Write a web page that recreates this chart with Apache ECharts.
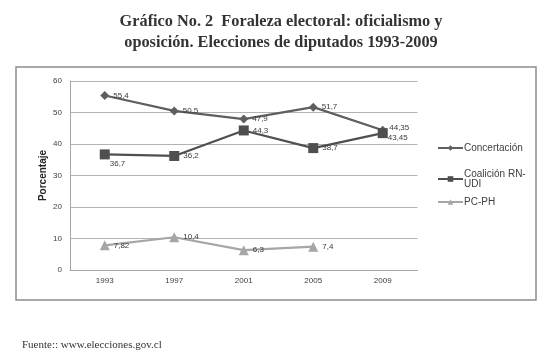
<!DOCTYPE html>
<html>
<head>
<meta charset="utf-8">
<script src="https://cdn.jsdelivr.net/npm/echarts@6/dist/echarts.min.js"></script>
<style>html,body{margin:0;padding:0;background:#fff;}#c{width:545px;height:356px;}</style>
</head>
<body>
<div id="c"></div>
<script>
const years = ['1993', '1997', '2001', '2005', '2009'];
const concertacion = [55.4, 50.5, 47.9, 51.7, 44.35];
const coalicion = [36.7, 36.2, 44.3, 38.7, 43.45];
const pcph = [7.82, 10.4, 6.3, 7.4, null];
const seriesNames = ['Concertación', 'Coalición RN-UDI', 'PC-PH'];
const yTicks = [0, 10, 20, 30, 40, 50, 60];

const fmt = p => String(p.value).replace('.', ',');
const lblBase = { show: true, position: 'right', distance: 4, fontSize: 8, color: '#3a3a3a', fontFamily: 'Liberation Sans', formatter: fmt };

const chart = echarts.init(document.getElementById('c'), null, { renderer: 'canvas' });
const legendCommon = {
  orient: 'vertical', left: 437, itemWidth: 25, itemHeight: 7,
  textStyle: { fontSize: 10, color: '#404040', fontFamily: 'Liberation Sans', lineHeight: 10, padding: [0, 0, 0, -4] },
  padding: 0
};
chart.setOption({
  animation: false,
  backgroundColor: '#fff',
  title: [
    { text: 'Gráfico No. 2  Foraleza electoral: oficialismo y\noposición. Elecciones de diputados 1993-2009',
      left: 276, top: 6, textAlign: 'center',
      textStyle: { fontFamily: 'Liberation Serif', fontWeight: 'bold', fontSize: 16.3, lineHeight: 21, color: '#333' } },
    { text: 'Fuente:: www.elecciones.gov.cl', left: 17, top: 335,
      textStyle: { fontFamily: 'Liberation Serif', fontWeight: 'normal', fontSize: 11, color: '#333' } }
  ],
  graphic: [
    { type: 'rect', shape: { x: 16, y: 67, width: 520, height: 233 }, style: { fill: 'none', stroke: '#8c8c8c', lineWidth: 1.5 }, z: -1 }
  ],
  legend: [
    Object.assign({ top: 143, data: [seriesNames[0]] }, legendCommon),
    Object.assign({ top: 169, data: [seriesNames[1]], formatter: n => 'Coalición RN-\nUDI' }, legendCommon),
    Object.assign({ top: 197, data: [seriesNames[2]] }, legendCommon)
  ],
  grid: { left: 70, right: 127.5, top: 81, bottom: 86 },
  xAxis: {
    type: 'category', data: years, boundaryGap: true,
    axisLine: { lineStyle: { color: '#a6a6a6' } }, axisTick: { show: false },
    axisLabel: { fontSize: 8, color: '#404040', fontFamily: 'Liberation Sans', margin: 7 }
  },
  yAxis: {
    type: 'value', min: yTicks[0], max: yTicks[yTicks.length - 1], interval: 10,
    name: 'Porcentaje', nameLocation: 'middle', nameGap: 22, nameRotate: 90, nameMoveOverlap: false,
    nameTextStyle: { fontSize: 10, fontWeight: 'bold', color: '#262626', fontFamily: 'Liberation Sans' },
    axisLine: { show: true, lineStyle: { color: '#a6a6a6' } }, axisTick: { show: false },
    splitLine: { lineStyle: { color: '#b3b3b3' } },
    axisLabel: { fontSize: 8, color: '#404040', fontFamily: 'Liberation Sans', margin: 8 }
  },
  series: [
    { name: seriesNames[0], type: 'line', symbol: 'diamond', symbolSize: 9,
      itemStyle: { color: '#5f5f5f' }, lineStyle: { color: '#5f5f5f', width: 2.2 },
      label: lblBase,
      emphasis: { disabled: true },
      data: concertacion.map((v, i) => i === 4 ? { value: v, label: { offset: [-2, -3] } } : v) },
    { name: seriesNames[1], type: 'line', symbol: 'rect', symbolSize: 10,
      itemStyle: { color: '#4f4f4f' }, lineStyle: { color: '#4f4f4f', width: 2.2 },
      label: lblBase,
      emphasis: { disabled: true },
      data: coalicion.map((v, i) => i === 0 ? { value: v, label: { offset: [-4, 9] } } : (i === 4 ? { value: v, label: { offset: [-4, 5] } } : v)) },
    { name: seriesNames[2], type: 'line', data: pcph, symbol: 'triangle', symbolSize: 10,
      itemStyle: { color: '#a6a6a6' }, lineStyle: { color: '#a6a6a6', width: 2.2 },
      label: lblBase, connectNulls: false,
      emphasis: { disabled: true } }
  ]
});
</script>
</body>
</html>
